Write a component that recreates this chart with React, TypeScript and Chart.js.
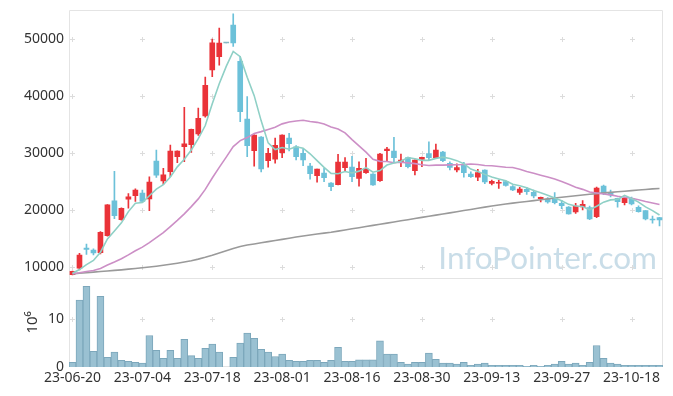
import { useEffect, useRef } from "react";
import { Chart, registerables } from "chart.js";

Chart.register(...registerables);

const DATES = [
  "23-06-20", "23-06-21", "23-06-22", "23-06-23", "23-06-26", "23-06-27", "23-06-28", "23-06-29", "23-06-30", "23-07-03",
  "23-07-04", "23-07-05", "23-07-06", "23-07-07", "23-07-10", "23-07-11", "23-07-12", "23-07-13", "23-07-14", "23-07-17",
  "23-07-18", "23-07-19", "23-07-20", "23-07-21", "23-07-24", "23-07-25", "23-07-26", "23-07-27", "23-07-28", "23-07-31",
  "23-08-01", "23-08-02", "23-08-03", "23-08-04", "23-08-07", "23-08-08", "23-08-09", "23-08-10", "23-08-11", "23-08-14",
  "23-08-16", "23-08-17", "23-08-18", "23-08-21", "23-08-22", "23-08-23", "23-08-24", "23-08-25", "23-08-28", "23-08-29",
  "23-08-30", "23-08-31", "23-09-01", "23-09-04", "23-09-05", "23-09-06", "23-09-07", "23-09-08", "23-09-11", "23-09-12",
  "23-09-13", "23-09-14", "23-09-15", "23-09-18", "23-09-19", "23-09-20", "23-09-21", "23-09-22", "23-09-25", "23-09-26",
  "23-09-27", "23-10-04", "23-10-05", "23-10-06", "23-10-10", "23-10-11", "23-10-12", "23-10-13", "23-10-16", "23-10-17",
  "23-10-18", "23-10-19", "23-10-20", "23-10-23", "23-10-24",
];

const OPEN = [
  8650, 9800, 13300, 12950, 12500, 15500, 21600, 18300, 21900, 22500,
  22980, 21930, 28600, 25100, 26720, 29350, 31100, 31460, 33330, 36490,
  44560, 46900, 49300, 52460, 46100, 35970, 30410, 32800, 28650, 28900,
  30060, 32630, 31100, 29940, 27720, 26020, 26490, 24740, 24440, 27420,
  27540, 25560, 26540, 26320, 25140, 30400, 30350, 28420, 29180, 26900,
  28890, 29880, 29180, 30180, 28190, 27020, 27900, 26320, 25740, 27020,
  24680, 24700, 24970, 24090, 23100, 23630, 23100, 21980, 21930, 22050,
  21170, 20530, 19650, 20530, 20410, 18830, 24210, 23040, 22050, 21290,
  22050, 20470, 19880, 18420, 18650,
];
const HIGH = [
  9300, 12400, 14000, 13200, 16200, 20950, 26800, 20400, 22900, 23700,
  23500, 25800, 30500, 27300, 31400, 30400, 38000, 34200, 37900, 43300,
  50000, 51900, 49300, 54400, 46900, 39900, 33200, 32900, 30800, 32600,
  33200, 33450, 31300, 30640, 28190, 27200, 27310, 24800, 29770, 29180,
  29410, 28470, 29060, 26400, 29950, 31000, 32750, 29820, 29300, 28800,
  29300, 31980, 31580, 30300, 28440, 28120, 28370, 26700, 27140, 27050,
  25260, 25260, 25100, 24300, 23980, 23980, 23510, 22250, 22200, 23040,
  21700, 20600, 21170, 21640, 20700, 24040, 24390, 23510, 22100, 22280,
  22280, 20750, 19900, 18950, 18700,
];
const LOW = [
  8600, 9500, 12200, 12100, 12300, 15400, 18500, 18200, 20300, 21500,
  21300, 19900, 25700, 24500, 25840, 28300, 28500, 30100, 33100, 36300,
  43400, 45400, 49300, 48700, 35500, 29350, 27700, 26700, 27500, 28200,
  29200, 30350, 28800, 27780, 25390, 24900, 24970, 23400, 24400, 26900,
  24970, 24200, 26430, 24300, 25000, 28500, 28300, 27600, 27400, 26150,
  27600, 28650, 29060, 28500, 27020, 26660, 25740, 25700, 25140, 24600,
  24390, 23800, 24200, 23400, 22750, 22750, 22100, 21400, 21200, 21050,
  20250, 19250, 19420, 20000, 18300, 18650, 22690, 22280, 20500, 20880,
  20880, 19600, 18250, 17670, 17200,
];
const CLOSE = [
  9250, 12100, 13100, 12450, 16100, 20900, 19000, 20300, 22300, 23500,
  21500, 24900, 26100, 26150, 30350, 30350, 31600, 34160, 36100, 41880,
  49350, 49300, 49300, 49300, 37250, 31300, 33160, 27200, 29950, 31350,
  33160, 31630, 29350, 28770, 26370, 27190, 25670, 24090, 28420, 28420,
  25840, 27310, 27190, 24390, 29820, 30700, 29180, 28770, 27600, 28770,
  29240, 29180, 30530, 28650, 27490, 27430, 26540, 25840, 26550, 24910,
  25030, 24850, 24300, 23510, 23680, 23210, 22460, 22220, 21400, 21290,
  20760, 19300, 20700, 21000, 18420, 23860, 22920, 22630, 21460, 22050,
  21050, 19700, 18420, 18250, 18250,
];
// volume in millions of shares
const VOLUME = [
  1.0, 14.0, 16.9, 3.3, 14.8, 2.0, 3.1, 1.4, 1.2, 1.0,
  0.8, 6.6, 3.5, 1.8, 3.5, 1.8, 5.8, 2.4, 1.8, 3.9,
  4.8, 3.1, 0, 2.0, 5.0, 7.1, 6.0, 3.7, 3.1, 2.2,
  2.7, 1.4, 1.2, 1.2, 1.4, 1.4, 1.0, 1.4, 4.1, 1.2,
  1.2, 1.5, 1.5, 1.5, 5.5, 2.7, 2.7, 1.0, 0.6, 1.0,
  1.0, 2.9, 1.6, 0.8, 0.8, 0.6, 1.0, 0.35, 0.6, 0.8,
  0.35, 0.35, 0.35, 0.35, 0.35, 0.15, 0.35, 0.15, 0.35, 0.6,
  1.2, 0.6, 0.8, 0.35, 1.0, 4.5, 1.8, 0.8, 0.6, 0.35,
  0.35, 0.35, 0.35, 0.35, 0.35,
];
const MA5 = [
  8890, 9550, 10410, 11140, 12600, 14930, 16310, 17750, 19720, 21200,
  21320, 22500, 23660, 24430, 25800, 27570, 28910, 30520, 32510, 34820,
  38620, 42160, 45190, 47830, 46900, 43290, 40060, 35640, 31770, 30590,
  30960, 30660, 31090, 30850, 29860, 28660, 27470, 26420, 26350, 26760,
  26490, 26820, 27440, 26630, 26910, 27880, 28260, 28570, 29210, 29000,
  28710, 28710, 29060, 29270, 29020, 28660, 28130, 27190, 26770, 26250,
  25770, 25440, 25130, 24520, 24270, 23910, 23430, 23020, 22590, 22120,
  21630, 20990, 20690, 20610, 20040, 20660, 21380, 21770, 21860, 22580,
  22020, 21380, 20540, 19890, 19130,
];
const MA20 = [
  8820, 8990, 9200, 9390, 9750, 10360, 10870, 11440, 12120, 12850,
  13490, 14290, 15160, 16020, 17100, 18180, 19320, 20590, 21950, 23610,
  25610, 27470, 29280, 31120, 32180, 32700, 33410, 33750, 34140, 34530,
  35110, 35450, 35610, 35740, 35540, 35380, 35090, 34580, 34200, 33530,
  32350, 31250, 30150, 28900, 28530, 28500, 28300, 28380, 28260, 28130,
  27940, 27810, 27870, 27870, 27920, 27940, 27980, 28070, 27970, 27800,
  27760, 27630, 27490, 27450, 27140, 26760, 26430, 26100, 25790, 25420,
  24990, 24500, 24010, 23620, 23170, 22990, 22810, 22650, 22400, 22250,
  22050, 21800, 21500, 21240, 20970,
];
const MA_LONG = [
  8800, 8900, 9000, 9100, 9200, 9300, 9400, 9500, 9620, 9740,
  9870, 10000, 10140, 10300, 10470, 10660, 10870, 11100, 11380, 11700,
  12050, 12450, 12850, 13250, 13600, 13850, 14050, 14250, 14450, 14650,
  14850, 15050, 15250, 15450, 15620, 15780, 15940, 16100, 16300, 16500,
  16700, 16900, 17100, 17300, 17500, 17700, 17900, 18100, 18300, 18500,
  18700, 18900, 19100, 19300, 19500, 19700, 19900, 20100, 20300, 20500,
  20700, 20880, 21050, 21200, 21350, 21500, 21650, 21800, 21950, 22100,
  22250, 22380, 22510, 22640, 22760, 22880, 23000, 23100, 23200, 23300,
  23400, 23500, 23600, 23700, 23780,
];

const PRICE_TICKS = [10000, 20000, 30000, 40000, 50000];
const VOLUME_TICKS = [0, 10];
const X_TICK_EVERY = 10;
const VOLUME_UNIT_LABEL = "10\u2076";
const WATERMARK = "InfoPointer.com";

// axis ranges of the two stacked panels
const PRICE_MIN = 8114;
const PRICE_MAX = 55088;
const VOLUME_MAX = 18.7;

const UP = "#ea3339";
const DOWN = "#6cc1d9";
const FLAT = "#86b9c4";
const FONT = "'Noto Sans', sans-serif";

const candleColor = (i: number) =>
  CLOSE[i] > OPEN[i] ? UP : CLOSE[i] < OPEN[i] ? DOWN : FLAT;

const noPad = (s: any) => {
  s.paddingTop = 0;
  s.paddingBottom = 0;
  s.paddingLeft = 0;
  s.paddingRight = 0;
};

const decorPlugin = {
  id: "decor",
  beforeDatasetsDraw(chart: any) {
    const { ctx, chartArea: a, scales } = chart;
    const xs = scales.x;
    const ys = scales.y;
    const y2s = scales.y2;
    const sep = Math.round(ys.bottom) + 0.5;
    ctx.save();
    // watermark
    ctx.font = "31.5px Lato";
    ctx.fillStyle = "rgba(165, 198, 216, 0.6)";
    ctx.textAlign = "right";
    ctx.textBaseline = "alphabetic";
    ctx.fillText(WATERMARK, a.right - 6, sep - 9.5);
    // frame
    ctx.strokeStyle = "#e4e4e4";
    ctx.lineWidth = 1;
    ctx.beginPath();
    ctx.moveTo(a.left + 0.5, a.top + 0.5);
    ctx.lineTo(a.right - 0.5, a.top + 0.5);
    ctx.lineTo(a.right - 0.5, a.bottom - 0.5);
    ctx.lineTo(a.left + 0.5, a.bottom - 0.5);
    ctx.closePath();
    ctx.moveTo(a.left, sep);
    ctx.lineTo(a.right, sep);
    ctx.stroke();
    // grid crosses
    const rows: number[] = [
      ...PRICE_TICKS.map((v) => ys.getPixelForValue(v)),
      ...VOLUME_TICKS.filter((v) => v > 0).map((v) => y2s.getPixelForValue(v)),
    ];
    ctx.strokeStyle = "#dcdcdc";
    ctx.beginPath();
    for (let i = 0; i < DATES.length; i += X_TICK_EVERY) {
      const px = Math.round(xs.getPixelForValue(i)) + 0.5;
      for (const r of rows) {
        const py = Math.round(r) + 0.5;
        ctx.moveTo(px - 2.5, py);
        ctx.lineTo(px + 2.5, py);
        ctx.moveTo(px, py - 2.5);
        ctx.lineTo(px, py + 2.5);
      }
    }
    ctx.stroke();
    ctx.restore();
  },
  afterDraw(chart: any) {
    const { ctx, scales } = chart;
    const y2s = scales.y2;
    const cy = (y2s.top + y2s.bottom) / 2;
    ctx.save();
    ctx.translate(33, cy);
    ctx.rotate(-Math.PI / 2);
    ctx.font = "15px " + FONT;
    ctx.fillStyle = "#333";
    ctx.textAlign = "center";
    ctx.textBaseline = "middle";
    ctx.fillText(VOLUME_UNIT_LABEL, 0, 0);
    ctx.restore();
  },
};

export default function App() {
  const ref = useRef<HTMLCanvasElement | null>(null);

  useEffect(() => {
    if (!ref.current) return;
    const idx = DATES.map((_, i) => i);
    const chart = new Chart(ref.current, {
      type: "bar",
      data: {
        labels: DATES,
        datasets: [
          {
            type: "line",
            label: "MA5",
            data: MA5,
            borderColor: "#8fd0c6",
            borderWidth: 1.6,
            pointRadius: 0,
            yAxisID: "y",
            order: 0,
          } as any,
          {
            type: "line",
            label: "MA20",
            data: MA20,
            borderColor: "#cc8fc6",
            borderWidth: 1.6,
            pointRadius: 0,
            yAxisID: "y",
            order: 0,
          } as any,
          {
            type: "line",
            label: "MA long",
            data: MA_LONG,
            borderColor: "#9a9a9a",
            borderWidth: 1.6,
            pointRadius: 0,
            yAxisID: "y",
            order: 0,
          } as any,
          {
            label: "wick",
            data: idx.map((i) => [LOW[i], HIGH[i]]),
            backgroundColor: idx.map(candleColor),
            barThickness: 1,
            grouped: false,
            yAxisID: "y",
            order: 1,
          } as any,
          {
            label: "body",
            data: idx.map((i) => [OPEN[i], CLOSE[i]]),
            backgroundColor: idx.map(candleColor),
            barThickness: 5,
            minBarLength: 1,
            grouped: false,
            yAxisID: "y",
            order: 1,
          } as any,
          {
            label: "volume",
            data: VOLUME,
            backgroundColor: "#9ac1d2",
            borderColor: "#7ca7bb",
            borderWidth: 1,
            barPercentage: 1,
            categoryPercentage: 1,
            grouped: false,
            yAxisID: "y2",
            order: 2,
          } as any,
        ],
      },
      options: {
        animation: false,
        responsive: false,
        devicePixelRatio: 1,
        layout: { padding: { top: 10, right: 10, left: 0, bottom: 0 } },
        plugins: {
          legend: { display: false },
          tooltip: { enabled: false },
        },
        scales: {
          x: {
            type: "category",
            offset: true,
            grid: { display: false, drawTicks: false },
            border: { display: false },
            ticks: {
              autoSkip: false,
              maxRotation: 0,
              minRotation: 0,
              padding: 3,
              color: "#333",
              font: { family: FONT, size: 14 },
              callback: (_v: any, i: number) => (i % X_TICK_EVERY === 0 ? DATES[i] : ""),
            },
            afterFit: (s: any) => {
              s.height = 29;
              noPad(s);
            },
          },
          y: {
            position: "left",
            stack: "panels",
            stackWeight: 3,
            weight: 1,
            min: PRICE_MIN,
            max: PRICE_MAX,
            grid: { display: false, drawTicks: false },
            border: { display: false },
            ticks: {
              padding: 5,
              color: "#333",
              font: { family: FONT, size: 14 },
              callback: (v: any) => String(v),
            },
            afterBuildTicks: (s: any) => {
              s.ticks = PRICE_TICKS.map((v) => ({ value: v }));
            },
            afterFit: (s: any) => {
              s.width = 69;
              noPad(s);
            },
          },
          y2: {
            position: "left",
            stack: "panels",
            stackWeight: 1,
            weight: 0,
            min: 0,
            max: VOLUME_MAX,
            grid: { display: false, drawTicks: false },
            border: { display: false },
            ticks: {
              padding: 5,
              color: "#333",
              font: { family: FONT, size: 14 },
              callback: (v: any) => String(v),
            },
            afterBuildTicks: (s: any) => {
              s.ticks = VOLUME_TICKS.map((v) => ({ value: v }));
            },
            afterFit: (s: any) => {
              s.width = 69;
              noPad(s);
            },
          },
        },
      } as any,
      plugins: [decorPlugin],
    });
    return () => chart.destroy();
  }, []);

  return (
    <div style={{ position: "fixed", left: 0, top: 0, width: 673, height: 396, background: "#fff" }}>
      <canvas ref={ref} width={673} height={396} style={{ display: "block" }} />
    </div>
  );
}
